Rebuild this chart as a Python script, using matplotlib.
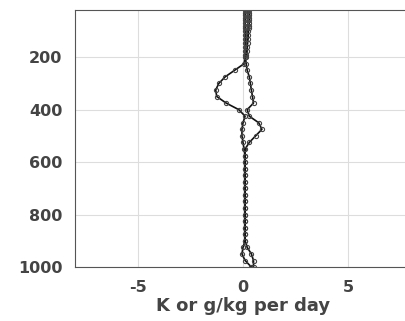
import matplotlib.pyplot as plt

plt.rcParams['axes.unicode_minus'] = False

# pressure levels (hPa)
plev = [20, 30, 40, 50, 60, 70, 80, 90, 100, 115, 130, 145, 160, 175, 190, 200,
        225, 250, 275, 300, 325, 350, 375, 400, 425, 450, 475, 500, 525, 550,
        575, 600, 625, 650, 675, 700, 725, 750, 775, 800, 825, 850, 875, 900,
        925, 950, 975, 1000]

# heating tendency (K/day)
dT = [0.1, 0.1, 0.1, 0.1, 0.1, 0.1, 0.1, 0.1, 0.1, 0.1, 0.1, 0.1,
      0.1, 0.1, 0.1, 0.1,
      0.05, -0.4, -0.85, -1.15, -1.3, -1.25, -0.8, -0.2, 0.1, 0.0, -0.05, -0.05,
      0.0, 0.05, 0.1, 0.1, 0.1, 0.1, 0.1, 0.1, 0.1, 0.1, 0.1, 0.1, 0.1, 0.1,
      0.1, 0.1, 0.0, -0.05, 0.1, 0.4]

# moistening tendency (g/kg per day)
dq = [0.3, 0.3, 0.3, 0.3, 0.3, 0.3, 0.28, 0.28, 0.26, 0.25, 0.24, 0.22,
      0.2, 0.18, 0.15, 0.12,
      0.15, 0.2, 0.3, 0.35, 0.4, 0.45, 0.5, 0.2, 0.3, 0.75, 0.9, 0.6, 0.3,
      0.1, 0.1, 0.1, 0.1, 0.1, 0.1, 0.1, 0.1, 0.1, 0.1, 0.1, 0.1, 0.1, 0.1,
      0.1, 0.2, 0.4, 0.5, 0.5]

fig = plt.figure(figsize=(4.05, 3.21), dpi=100)
ax = fig.add_axes([0.185, 0.168, 0.83, 0.801])

for prof in (dT, dq):
    ax.plot(prof, plev, color='#111111', lw=1.2, marker='o', ms=3,
            mfc='none', mec='#444444', mew=0.8)

ax.set_xlim(-8, 8)
ax.set_ylim(1000, 20)
ax.set_xticks([-5, 0, 5])
ax.set_yticks([200, 400, 600, 800, 1000])
ax.grid(True, color='#dddddd', lw=0.8)
ax.set_axisbelow(True)
for s in ax.spines.values():
    s.set_color('#555555')
ax.tick_params(length=0, pad=9, colors='#444444')
for lab in ax.get_xticklabels() + ax.get_yticklabels():
    lab.set_fontsize(11.5)
    lab.set_fontweight('bold')
ax.set_xlabel('K or g/kg per day', fontsize=13, fontweight='bold',
              color='#444444', labelpad=2)

fig.savefig('out.png', dpi=100)
